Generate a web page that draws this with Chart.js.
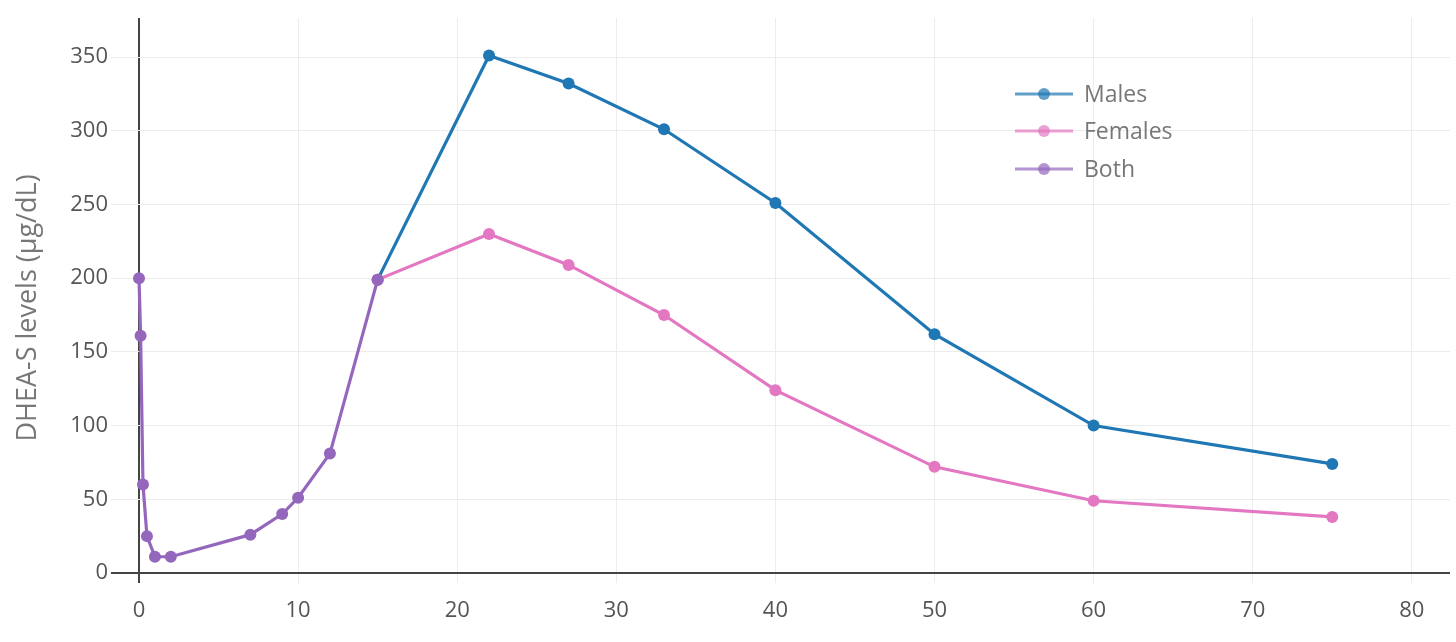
<!DOCTYPE html>
<html><head><meta charset="utf-8">
<script src="https://cdn.jsdelivr.net/npm/chart.js@4.4.1/dist/chart.umd.min.js"></script>
<style>html,body{margin:0;padding:0;background:#fff;}#wrap{width:1456px;height:642px;position:relative;}</style>
</head><body><div id="wrap"><canvas id="c" width="1456" height="642"></canvas></div>
<script>
const seriesNames = ['Males', 'Females', 'Both'];
const seriesColors = ['#1f77b4', '#e377c2', '#9467bd'];
const legendColors = ['rgba(31,119,180,0.7)', 'rgba(227,119,194,0.7)', 'rgba(148,103,189,0.7)'];
const malesX = [15, 22, 27, 33, 40, 50, 60, 75];
const malesY = [199, 351, 332, 301, 251, 162, 100, 74];
const femalesX = [15, 22, 27, 33, 40, 50, 60, 75];
const femalesY = [199, 230, 209, 175, 124, 72, 49, 38];
const bothX = [0, 0.1, 0.25, 0.5, 1, 2, 7, 9, 10, 12, 15];
const bothY = [200, 161, 60, 25, 11, 11, 26, 40, 51, 81, 199];
const xTicks = [0, 10, 20, 30, 40, 50, 60, 70, 80];
const yTicks = [0, 50, 100, 150, 200, 250, 300, 350];
const yTitle = 'DHEA-S levels (µg/dL)';

const toPts = (xs, ys) => xs.map((x, i) => ({x: x, y: ys[i]}));
const allX = [malesX, femalesX, bothX];
const allY = [malesY, femalesY, bothY];

const datasets = seriesNames.map((n, i) => ({
  label: n,
  data: toPts(allX[i], allY[i]),
  borderColor: seriesColors[i],
  backgroundColor: seriesColors[i],
  pointBackgroundColor: seriesColors[i],
  pointBorderWidth: 0,
  pointRadius: 6,
  borderWidth: 3.2,
  tension: 0,
  order: 3 - i
}));

const legendPlugin = {
  id: 'plotlyLegend',
  afterDraw(chart) {
    const ctx = chart.ctx;
    ctx.save();
    ctx.font = '23px "Open Sans"';
    ctx.textBaseline = 'middle';
    const rows = [94, 131, 169];
    seriesNames.forEach((n, i) => {
      const y = rows[i];
      ctx.strokeStyle = legendColors[i];
      ctx.lineWidth = 3;
      ctx.beginPath(); ctx.moveTo(1015, y); ctx.lineTo(1073, y); ctx.stroke();
      ctx.fillStyle = legendColors[i];
      ctx.beginPath(); ctx.arc(1044, y, 6, 0, Math.PI * 2); ctx.fill();
      ctx.fillStyle = '#777';
      ctx.fillText(n, 1084, y + 1);
    });
    // y-axis title
    ctx.translate(28, 308);
    ctx.rotate(-Math.PI / 2);
    ctx.textAlign = 'center';
    ctx.font = '27px "Open Sans"';
    ctx.fillStyle = '#777';
    ctx.fillText(yTitle, 0, 0);
    ctx.restore();
  }
};

new Chart(document.getElementById('c'), {
  type: 'line',
  data: { datasets: datasets },
  plugins: [legendPlugin],
  options: {
    responsive: false,
    animation: false,
    layout: { padding: { left: 0, top: 18, right: 6, bottom: 0 } },
    plugins: { legend: { display: false }, tooltip: { enabled: false } },
    scales: {
      x: {
        type: 'linear', min: -1.76, max: 82.4,
        afterBuildTicks: s => { s.ticks = xTicks.map(v => ({value: v})); },
        afterFit: s => { s.height = 59; },
        grid: {
          color: c => c.tick && c.tick.value === 0 ? '#444' : '#ececec',
          lineWidth: c => c.tick && c.tick.value === 0 ? 2 : 1,
          drawTicks: false
        },
        border: { display: false },
        ticks: { color: '#555', font: { family: 'Open Sans', size: 22 }, padding: 15, maxRotation: 0 }
      },
      y: {
        type: 'linear', min: -6.8, max: 376.5,
        afterBuildTicks: s => { s.ticks = yTicks.map(v => ({value: v})); },
        afterFit: s => { s.width = 111; },
        grid: {
          color: c => c.tick && c.tick.value === 0 ? '#444' : '#ececec',
          lineWidth: c => c.tick && c.tick.value === 0 ? 2 : 1,
          drawTicks: false
        },
        border: { display: false },
        title: { display: false },
        ticks: { color: '#555', font: { family: 'Open Sans', size: 22 }, padding: 3 }
      }
    }
  }
});
</script></body></html>
